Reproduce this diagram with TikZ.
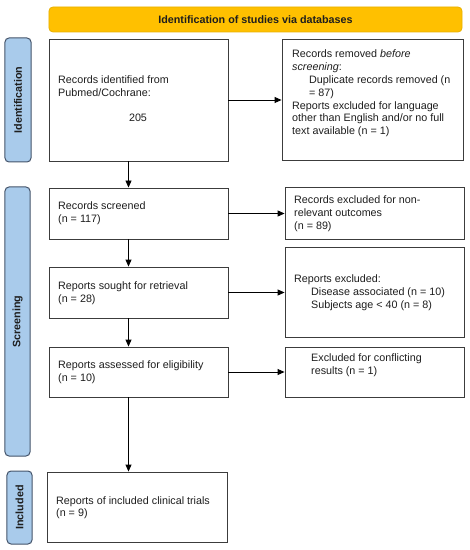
\documentclass[tikz,border=0pt]{standalone}
\usepackage{fontspec}
\setmainfont{Liberation Sans}
\usetikzlibrary{arrows.meta}
\definecolor{boxline}{HTML}{3C3C3C}
\definecolor{titlefill}{HTML}{FFC000}
\definecolor{titleline}{HTML}{E8B000}
\definecolor{sidefill}{HTML}{A9CBEB}
\definecolor{sideline}{HTML}{44546A}
\definecolor{txtcol}{HTML}{1E1E1E}
\tikzset{
  box/.style={draw=boxline, line width=0.9bp, fill=white, inner sep=0, minimum width=#1},
  box/.default=179bp,
  txt/.style={inner sep=0, anchor=north west, align=left, text=txtcol, font=\fontsize{10.8}{12.8}\selectfont},
  sidebox/.style={draw=sideline, line width=1bp, fill=sidefill, rounded corners=4bp, rotate=90, inner sep=0, text=txtcol, font=\bfseries\fontsize{10.8}{12.8}\selectfont},
  titlebox/.style={draw=titleline, line width=0.8bp, fill=titlefill, rounded corners=4bp, inner sep=0, text=txtcol, font=\bfseries\fontsize{10.8}{12.8}\selectfont},
  arr/.style={draw=black, line width=0.9bp, -{Triangle[length=7bp,width=6bp]}}
}
\begin{document}
\begin{tikzpicture}[x=1bp,y=-1bp]
\useasboundingbox (0,0) rectangle (470,550);
% title
\node[titlebox, minimum width=413bp, minimum height=25bp] (title) at (255.5,19.5) {Identification of studies via databases};
% side labels
\node[sidebox, minimum width=124bp, minimum height=26bp] (s1) at (18,100) {Identification};
\node[sidebox, minimum width=269bp, minimum height=25bp] (s2) at (17.5,321.5) {Screening};
\node[sidebox, minimum width=73bp, minimum height=25bp] (s3) at (19.5,507.5) {Included};
% boxes
\node[box, minimum height=122bp] (b1) at (138.5,100) {};
\node[box=181bp, minimum height=121bp] (r1) at (372.5,99.5) {};
\node[box, minimum height=51bp] (b2) at (138.5,213.5) {};
\node[box, minimum height=52bp] (r2) at (374.5,213) {};
\node[box, minimum height=51bp] (b3) at (138.5,292.5) {};
\node[box, minimum height=90bp] (r3) at (374.5,292) {};
\node[box, minimum height=50bp] (b4) at (138.5,372) {};
\node[box, minimum height=50bp] (r4) at (374.5,372) {};
\node[box=180bp, minimum height=70bp] (b5) at (137,507) {};
% texts
\node[txt] (t1) at (58,76) {Records identified from\\Pubmed/Cochrane:};
\node[txt, anchor=center] (t1n) at (138,118) {205};
\node[txt] (tr1) at (292,50) {Records removed \textit{before}\\\textit{screening}:\\\hspace*{17bp}Duplicate records removed (n\\\hspace*{17bp}= 87)\\Reports excluded for language\\other than English and/or no full\\text available (n = 1)};
\node[txt] (t2) at (58,202) {Records screened\\(n = 117)};
\node[txt] (tr2) at (294,196) {Records excluded for non-\\relevant outcomes\\(n = 89)};
\node[txt] (t3) at (58,282) {Reports sought for retrieval\\(n = 28)};
\node[txt] (tr3) at (294,275) {Reports excluded:\\\hspace*{17bp}Disease associated (n = 10)\\\hspace*{17bp}Subjects age < 40 (n = 8)};
\node[txt] (t4) at (58,361) {Reports assessed for eligibility\\(n = 10)};
\node[txt] (tr4) at (311,354) {Excluded for conflicting\\results (n = 1)};
\node[txt] (t5) at (56,496) {Reports of included clinical trials\\(n = 9)};
% horizontal arrows
\draw[arr] (b1.east) -- (b1.east -| r1.west);
\draw[arr] (b2.east) -- (b2.east -| r2.west);
\draw[arr] (b3.east) -- (b3.east -| r3.west);
\draw[arr] (b4.east) -- (b4.east -| r4.west);
% vertical arrows
\draw[arr] ([xshift=-10bp]b1.south) -- ([xshift=-10bp]b1.south |- b2.north);
\draw[arr] ([xshift=-10bp]b2.south) -- ([xshift=-10bp]b2.south |- b3.north);
\draw[arr] ([xshift=-10bp]b3.south) -- ([xshift=-10bp]b3.south |- b4.north);
\draw[arr] ([xshift=-10bp]b4.south) -- ([xshift=-10bp]b4.south |- b5.north);
\end{tikzpicture}
\end{document}
